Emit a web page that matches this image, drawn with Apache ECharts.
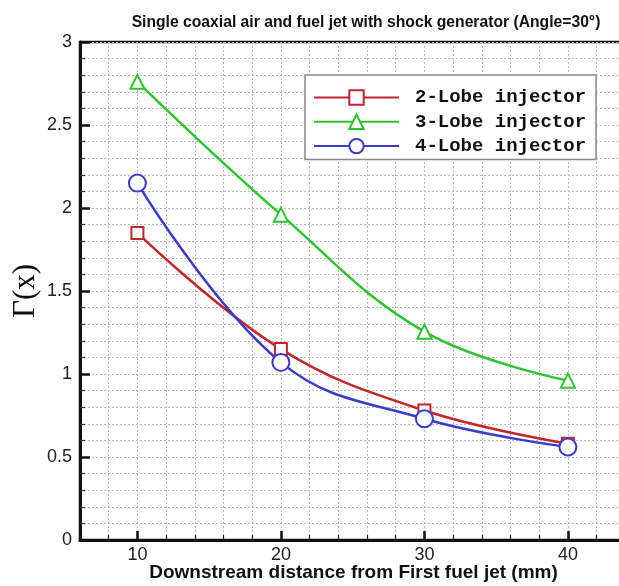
<!DOCTYPE html>
<html>
<head>
<meta charset="utf-8">
<script src="https://cdn.jsdelivr.net/npm/echarts@6/dist/echarts.min.js"></script>
<style>html,body{margin:0;padding:0;background:#fff;}#c{width:619px;height:586px;}</style>
</head>
<body>
<div id="c"></div>
<script>
const xPositions = [10, 20, 30, 40];
const lobe2 = [1.85, 1.15, 0.78, 0.58];
const lobe3 = [2.76, 1.96, 1.255, 0.96];
const lobe4 = [2.15, 1.07, 0.73, 0.56];
const xTickLabels = [10, 20, 30, 40];
const seriesNames = ['2-Lobe injector', '3-Lobe injector', '4-Lobe injector'];
const titleText = 'Single coaxial air and fuel jet with shock generator (Angle=30°)';
const xName = 'Downstream distance from First fuel jet (mm)';
const yName = 'Γ(x)';

const pairs = arr => xPositions.map((x, i) => [x, arr[i]]);
const gridBox = { left: 80, top: 42, bottom: 46, right: -35, outerBoundsMode: 'none', containLabel: false };
const gridLine = { show: true, lineStyle: { color: '#b8b8b8', type: [2, 2], width: 1 } };

function mkSeries(name, data, color, symbol, size) {
  return {
    name, type: 'line', data: pairs(data), xAxisIndex: 0, yAxisIndex: 0,
    smooth: 0.4, symbol, symbolSize: size,
    lineStyle: { color, width: 2.5 },
    itemStyle: { color: '#fff', borderColor: color, borderWidth: 2 },
    z: 5
  };
}

const chart = echarts.init(document.getElementById('c'), null, { renderer: 'canvas' });
chart.setOption({
  animation: false,
  backgroundColor: '#fff',
  title: {
    text: titleText, left: 361, top: 10, textAlign: 'center',
    textStyle: { fontFamily: 'Liberation Sans', fontWeight: 'bold', fontSize: 15.7, color: '#111' }
  },
  legend: {
    orient: 'vertical', left: 305, top: 75,
    data: seriesNames,
    itemWidth: 85, itemHeight: 18, itemGap: 5.3,
    padding: [13, 10, 4, 8],
    backgroundColor: '#fff', borderColor: '#888', borderWidth: 1.5,
    textStyle: { fontFamily: 'Liberation Mono', fontWeight: 'bold', fontSize: 19, color: '#111', padding: [0, 0, 0, 11] }
  },
  grid: [
    Object.assign({ show: true, borderColor: '#111', borderWidth: 2.5, backgroundColor: 'transparent' }, gridBox),
    Object.assign({ show: false }, gridBox)
  ],
  xAxis: [
    {
      type: 'value', gridIndex: 0, min: 6, max: 46, interval: 2,
      axisLine: { show: true, lineStyle: { color: '#111', width: 3 } },
      axisTick: { show: true, inside: true, length: 5, lineStyle: { color: '#222', width: 1.2 } },
      axisLabel: { show: false },
      splitLine: gridLine
    },
    {
      type: 'value', gridIndex: 1, min: 6, max: 46, interval: 2,
      axisLine: { show: false },
      axisTick: { show: true, inside: true, length: 9, customValues: xTickLabels, lineStyle: { color: '#111', width: 2.5 } },
      axisLabel: { show: true, customValues: xTickLabels, margin: 6, fontFamily: 'Liberation Sans', fontSize: 18, color: '#222' },
      splitLine: { show: false },
      name: xName, nameLocation: 'middle', nameGap: 23, nameMoveOverlap: false,
      nameTextStyle: { fontFamily: 'Liberation Sans', fontWeight: 'bold', fontSize: 19, color: '#111', padding: [0, 27, 0, 0] }
    }
  ],
  yAxis: [
    {
      type: 'value', gridIndex: 0, min: 0, max: 3, interval: 0.5,
      axisLine: { show: true, lineStyle: { color: '#111', width: 3 } },
      axisTick: { show: true, inside: true, length: 10, lineStyle: { color: '#111', width: 2.5 } },
      minorTick: { show: true, splitNumber: 5, length: 5, lineStyle: { color: '#333', width: 1.2 } },
      axisLabel: { show: true, margin: 8, fontFamily: 'Liberation Sans', fontSize: 18, color: '#222' },
      splitLine: gridLine,
      minorSplitLine: gridLine,
      name: yName, nameLocation: 'middle', nameGap: 39, nameMoveOverlap: false,
      nameTextStyle: { fontFamily: 'Liberation Serif', fontSize: 31, color: '#111' }
    },
    { type: 'value', gridIndex: 1, min: 0, max: 3, show: false }
  ],
  series: [
    mkSeries(seriesNames[0], lobe2, '#c0272d', 'rect', 12),
    mkSeries(seriesNames[1], lobe3, '#2ec42e', 'triangle', 14),
    mkSeries(seriesNames[2], lobe4, '#3b3bc8', 'circle', 17)
  ]
});
</script>
</body>
</html>
